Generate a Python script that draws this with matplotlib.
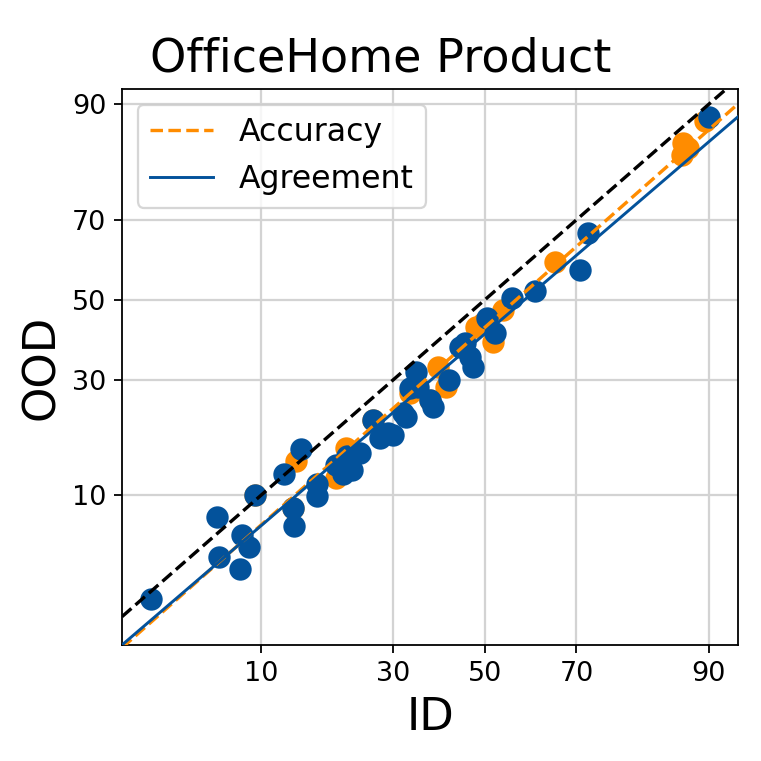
import numpy as np
import matplotlib
matplotlib.use("Agg")
import matplotlib.pyplot as plt
from matplotlib.ticker import FixedLocator, NullLocator
from statistics import NormalDist

# 数据（百分比）
agree_id = [2.8, 6.3, 6.4, 8.2, 8.9, 8.1, 9.4, 12.5, 14.7, 13.6, 13.7, 16.8, 16.8,
            19.8, 21.6, 22.3, 20.8, 23.7, 26.1, 27.4, 28.9, 30.0, 31.9, 32.7, 33.4,
            34.6, 35.1, 37.6, 38.3, 42.0, 44.3, 45.4, 46.6, 47.3, 50.6, 52.3, 56.2,
            61.3, 70.7, 72.3, 90.0]
agree_ood = [2.5, 7.7, 4.6, 6.2, 5.25, 3.9, 10.1, 12.7, 16.4, 8.6, 6.9, 11.4, 9.9,
             14.0, 15.3, 13.3, 12.7, 15.8, 21.6, 18.2, 19.2, 18.8, 23.0, 22.2, 28.2,
             31.8, 28.5, 25.6, 24.2, 30.0, 38.0, 38.9, 35.5, 33.1, 45.4, 41.4, 50.4,
             52.2, 57.8, 66.9, 88.5]

acc_id = [14.0, 19.8, 21.4, 41.3, 49.6, 51.9, 54.2, 65.6, 87.2, 87.0, 87.8, 48.1,
          37.6, 33.4, 26.1, 13.6, 9.4, 89.6, 39.4]
acc_ood = [14.5, 12.2, 16.6, 28.5, 43.9, 39.2, 47.4, 59.9, 84.8, 82.9, 84.1, 43.0,
           25.6, 27.0, 21.6, 8.6, 10.1, 88.0, 33.0]

# 拟合直线（probit 空间）: 斜率, 截距
acc_fit = (1.011, -0.181)
agree_fit = (0.982, -0.223)

ticks = [10, 30, 50, 70, 90]
xlim = (1.894, 92.64)
ylim = (1.185, 91.65)

nd = NormalDist()


def _fwd(v):
    v = float(v)
    if np.isnan(v):
        return np.nan
    p = min(max(v / 100.0, 1e-9), 1 - 1e-9)
    return nd.inv_cdf(p)


def _inv(z):
    z = float(z)
    if np.isnan(z):
        return np.nan
    return nd.cdf(z) * 100.0


fwd = np.vectorize(_fwd, otypes=[float])
inv = np.vectorize(_inv, otypes=[float])

orange = "#ff8c00"
blue = "#03529b"

fig = plt.figure(figsize=(761 / 162, 761 / 162), dpi=162)
ax = fig.add_subplot(111)
fig.subplots_adjust(left=0.1603, right=0.9698, top=0.883, bottom=0.1524)

ax.set_xscale("function", functions=(fwd, inv))
ax.set_yscale("function", functions=(fwd, inv))

ax.scatter(acc_id, acc_ood, s=80, color=orange, zorder=2)
ax.scatter(agree_id, agree_ood, s=80, color=blue, zorder=3)

zx = np.linspace(fwd(xlim[0]), fwd(xlim[1]), 200)
xs = inv(zx)
ax.plot(xs, xs, "k--", lw=1.5, zorder=4)
ax.plot(xs, inv(acc_fit[0] * zx + acc_fit[1]), "--", color=orange, lw=1.5,
        zorder=4, label="Accuracy")
ax.plot(xs, inv(agree_fit[0] * zx + agree_fit[1]), "-", color=blue, lw=1.3,
        zorder=4, label="Agreement")

ax.set_xlim(*xlim)
ax.set_ylim(*ylim)
for axis in (ax.xaxis, ax.yaxis):
    axis.set_major_locator(FixedLocator(ticks))
    axis.set_minor_locator(NullLocator())
ax.set_xticklabels([str(t) for t in ticks])
ax.set_yticklabels([str(t) for t in ticks])
ax.tick_params(labelsize=12)
ax.grid(True, color="lightgray", lw=1.0, zorder=0)
ax.set_axisbelow(True)

ax.set_xlabel("ID", fontsize=20)
ax.set_ylabel("OOD", fontsize=20)
ax.set_title("OfficeHome Product", fontsize=20.5, x=0.42, pad=8)
ax.legend(loc="upper left", fontsize=14)

fig.savefig("out.png", dpi=162)
